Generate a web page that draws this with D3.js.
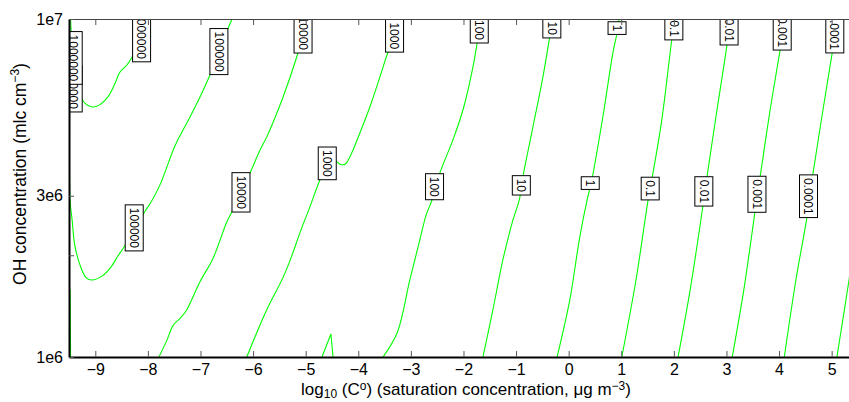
<!DOCTYPE html>
<html>
<head>
<meta charset="utf-8">
<script src="https://cdn.jsdelivr.net/npm/d3@7"></script>
<style>
  body { margin: 0; background: #fff; }
  svg { display: block; font-family: "Liberation Sans", Arial, Helvetica, sans-serif; }
  .axis text { font-size: 16px; fill: #000; }
  .clabel text { font-size: 12px; fill: #000; }
</style>
</head>
<body>
<svg id="chart"></svg>
<script>
const graphWidth = 849;
const graphHeight = 402;
const margin = { top: 19, right: 0, bottom: 45, left: 69 };

// x: log10(C0), y: OH concentration
const xTicks = [-9, -8, -7, -6, -5, -4, -3, -2, -1, 0, 1, 2, 3, 4, 5];
const yTicks = [1e6, 2e6, 3e6, 1e7];
const yTickLabels = ['1e6', '', '3e6', '1e7'];

// contour lines, [log10 C0, OH]
const line1e6 = [[-9.47, 1e7], [-9.46, 9.28e6], [-9.40, 7.57e6], [-9.35, 6.38e6], [-9.29, 5.96e6],
  [-9.20, 5.64e6], [-9.06, 5.49e6], [-8.91, 5.58e6], [-8.76, 5.88e6], [-8.63, 6.42e6],
  [-8.53, 6.97e6], [-8.40, 7.31e6], [-8.28, 7.82e6], [-8.13, 8.67e6], [-7.96, 1e7]];
const line1e5 = [[-9.49, 6.2e6], [-9.49, 5.31e6], [-9.48, 2.91e6], [-9.44, 2.54e6], [-9.39, 2.14e6],
  [-9.29, 1.87e6], [-9.18, 1.72e6], [-9.08, 1.69e6], [-8.91, 1.72e6], [-8.72, 1.83e6],
  [-8.57, 1.99e6], [-8.45, 2.12e6], [-8.26, 2.38e6], [-8.06, 2.69e6], [-7.92, 2.91e6],
  [-7.77, 3.23e6], [-7.52, 4.09e6], [-7.43, 4.39e6], [-7.20, 5.13e6], [-7.01, 5.88e6],
  [-6.82, 6.83e6], [-6.65, 7.99e6], [-6.52, 9.03e6], [-6.40, 1e7]];
const line1e4 = [[-7.79, 1e6], [-7.64, 1.12e6], [-7.52, 1.24e6], [-7.39, 1.30e6], [-7.26, 1.38e6],
  [-7.01, 1.67e6], [-6.76, 1.96e6], [-6.50, 2.51e6], [-6.38, 2.73e6], [-6.23, 3.08e6],
  [-6.06, 3.50e6], [-5.87, 4.09e6], [-5.74, 4.48e6], [-5.43, 5.88e6], [-5.17, 7.72e6],
  [-5.05, 8.97e6], [-4.99, 1e7]];
const line1e4Edge = [[-9.48, 1.58e6], [-9.47, 1e6]];
const line1e3 = [[-6.12, 1e6], [-5.93, 1.18e6], [-5.74, 1.38e6], [-5.43, 1.72e6], [-5.26, 2.0e6],
  [-5.11, 2.33e6], [-4.92, 2.78e6], [-4.73, 3.34e6], [-4.59, 3.70e6], [-4.46, 3.83e6],
  [-4.35, 3.72e6], [-4.25, 3.72e6], [-4.16, 3.91e6], [-3.97, 4.60e6], [-3.78, 5.49e6],
  [-3.59, 6.73e6], [-3.44, 7.93e6], [-3.30, 8.97e6], [-3.21, 1e7]];
const line1e3Spike = [[-4.69, 1e6], [-4.52, 1.17e6], [-4.48, 1e6]];
const line1e2 = [[-3.53, 1e6], [-3.26, 1.18e6], [-3.02, 1.69e6], [-2.83, 2.22e6], [-2.71, 2.63e6],
  [-2.60, 2.91e6], [-2.45, 3.50e6], [-2.20, 4.39e6], [-2.01, 5.38e6], [-1.82, 7.21e6],
  [-1.74, 8.49e6], [-1.69, 9.28e6], [-1.63, 1e7]];
const line1e1 = [[-1.63, 1e6], [-1.44, 1.38e6], [-1.25, 1.94e6], [-1.06, 2.54e6], [-0.94, 2.91e6],
  [-0.87, 3.41e6], [-0.77, 4.09e6], [-0.68, 4.79e6], [-0.49, 6.73e6], [-0.36, 8.85e6], [-0.30, 1e7]];
const line1e0 = [[-0.22, 1e6], [0.02, 1.47e6], [0.21, 2.26e6], [0.35, 2.91e6], [0.44, 3.34e6],
  [0.65, 5.13e6], [0.84, 7.93e6], [0.92, 9.09e6], [0.96, 1e7]];
const line1em1 = [[1.01, 1e6], [1.28, 1.69e6], [1.51, 2.91e6], [1.58, 3.34e6], [1.77, 5.02e6],
  [1.96, 8.67e6], [2.02, 1e7]];
const line1em2 = [[2.08, 1e6], [2.31, 1.58e6], [2.55, 2.78e6], [2.63, 3.41e6], [2.82, 5.38e6],
  [3.01, 8.38e6], [3.07, 1e7]];
const line1em3 = [[3.11, 1e6], [3.33, 1.58e6], [3.54, 2.67e6], [3.64, 3.41e6], [3.83, 5.38e6],
  [4.02, 8.09e6], [4.11, 1e7]];
const line1em4 = [[4.10, 1e6], [4.32, 1.69e6], [4.53, 2.59e6], [4.64, 3.45e6], [4.82, 5.20e6],
  [5.01, 7.93e6], [5.12, 1e7]];
const line1em5 = [[5.10, 1e6], [5.33, 1.69e6], [5.54, 2.91e6]];

const contourLines = [line1e6, line1e5, line1e4, line1e4Edge, line1e3,
  line1e2, line1e1, line1e0, line1em1, line1em2, line1em3, line1em4, line1em5];
const sharpLines = [line1e3Spike];

// contour labels [log10 C0, OH, text]
const labelPos = [
  [-9.42, 6.21e6, '100000'],
  [-9.42, 7.67e6, '1000000'],
  [-8.12, 8.94e6, '1000000'],
  [-8.26, 2.41e6, '100000'],
  [-6.65, 8.01e6, '100000'],
  [-6.23, 3.07e6, '10000'],
  [-5.05, 9.07e6, '10000'],
  [-4.59, 3.74e6, '1000'],
  [-3.31, 8.92e6, '1000'],
  [-2.55, 3.19e6, '100'],
  [-1.70, 9.28e6, '100'],
  [-0.90, 3.22e6, '10'],
  [-0.32, 9.39e6, '10'],
  [0.41, 3.27e6, '1'],
  [0.92, 9.40e6, '1'],
  [1.55, 3.15e6, '0.1'],
  [2.00, 9.37e6, '0.1'],
  [2.57, 3.09e6, '0.01'],
  [3.05, 9.26e6, '0.01'],
  [3.58, 3.03e6, '0.001'],
  [4.06, 9.15e6, '0.001'],
  [4.56, 2.99e6, '0.0001'],
  [5.06, 9.18e6, '0.0001']
];

const svg = d3.select('#chart')
  .attr('width', graphWidth)
  .attr('height', graphHeight);

const x = d3.scaleLinear()
  .domain([-9.5, 5.33])
  .range([margin.left, graphWidth - margin.right]);
const y = d3.scaleLog()
  .domain([1e6, 1e7])
  .range([graphHeight - margin.bottom, margin.top]);

svg.append('defs').append('clipPath')
  .attr('id', 'plot-clip')
  .append('rect')
  .attr('x', margin.left)
  .attr('y', margin.top)
  .attr('width', graphWidth - margin.left - margin.right)
  .attr('height', graphHeight - margin.top - margin.bottom);

const plot = svg.append('g').attr('clip-path', 'url(#plot-clip)');

const line = d3.line()
  .x(d => x(d[0]))
  .y(d => y(d[1]))
  .curve(d3.curveCatmullRom.alpha(0.5));
const sharpLine = d3.line()
  .x(d => x(d[0]))
  .y(d => y(d[1]));

plot.selectAll('path.contour')
  .data(contourLines)
  .enter()
  .append('path')
  .attr('class', 'contour')
  .attr('d', line)
  .attr('fill', 'none')
  .attr('stroke', '#00ff00')
  .attr('stroke-width', 1.1);

plot.selectAll('path.sharp')
  .data(sharpLines)
  .enter()
  .append('path')
  .attr('class', 'sharp')
  .attr('d', sharpLine)
  .attr('fill', 'none')
  .attr('stroke', '#00ff00')
  .attr('stroke-width', 1.1);

//labels on the lines, rotated like clabel does it
const labels = plot.selectAll('g.clabel')
  .data(labelPos)
  .enter()
  .append('g')
  .attr('class', 'clabel')
  .attr('transform', d => 'translate(' + x(d[0]) + ',' + y(d[1]) + ') rotate(90)');

labels.append('rect');
labels.append('text')
  .attr('text-anchor', 'middle')
  .attr('dy', '0.36em')
  .text(d => d[2]);

labels.each(function() {
  const g = d3.select(this);
  const len = g.select('text').node().getComputedTextLength() + 6;
  g.select('rect')
    .attr('x', -len / 2)
    .attr('y', -9)
    .attr('width', len)
    .attr('height', 18)
    .attr('fill', '#fff')
    .attr('stroke', '#000')
    .attr('stroke-width', 1);
});

// axes
const bottomAxis = svg.append('g')
  .attr('class', 'axis')
  .attr('transform', 'translate(0,' + y(1e6) + ')')
  .call(d3.axisBottom(x).tickValues(xTicks).tickFormat(d3.format('d')).tickSizeInner(-6).tickSizeOuter(0).tickPadding(7));
bottomAxis.select('.domain').attr('stroke', '#000').attr('stroke-width', 2);
bottomAxis.selectAll('.tick line').attr('stroke', '#555');

const topAxis = svg.append('g')
  .attr('class', 'axis')
  .attr('transform', 'translate(0,' + y(1e7) + ')')
  .call(d3.axisTop(x).tickValues(xTicks).tickFormat('').tickSizeInner(-6).tickSizeOuter(0));
topAxis.select('.domain').attr('stroke', '#444').attr('stroke-width', 1.2);
topAxis.selectAll('.tick line').attr('stroke', '#555');

const leftAxis = svg.append('g')
  .attr('class', 'axis')
  .attr('transform', 'translate(' + margin.left + ',0)')
  .call(d3.axisLeft(y).tickValues(yTicks).tickFormat((d, i) => yTickLabels[i]).tickSizeInner(-5).tickSizeOuter(0).tickPadding(6));
leftAxis.select('.domain').attr('stroke', '#000').attr('stroke-width', 2);
leftAxis.selectAll('.tick line').attr('stroke', '#555');

// axis titles
svg.append('text')
  .attr('transform', 'translate(26,' + 174 + ') rotate(-90)')
  .attr('text-anchor', 'middle')
  .style('font-size', '17.5px')
  .html('OH concentration (mlc cm<tspan dy="-7" font-size="12px">−3</tspan><tspan dy="7">)</tspan>');

svg.append('text')
  .attr('x', 466)
  .attr('y', 395)
  .attr('text-anchor', 'middle')
  .style('font-size', '17px')
  .html('log<tspan dy="3" font-size="12px">10</tspan><tspan dy="-3"> (C</tspan><tspan dy="-5" font-size="12px">o</tspan><tspan dy="5">) (saturation concentration, μg m</tspan><tspan dy="-5" font-size="12px">−3</tspan><tspan dy="5">)</tspan>');
</script>
</body>
</html>
